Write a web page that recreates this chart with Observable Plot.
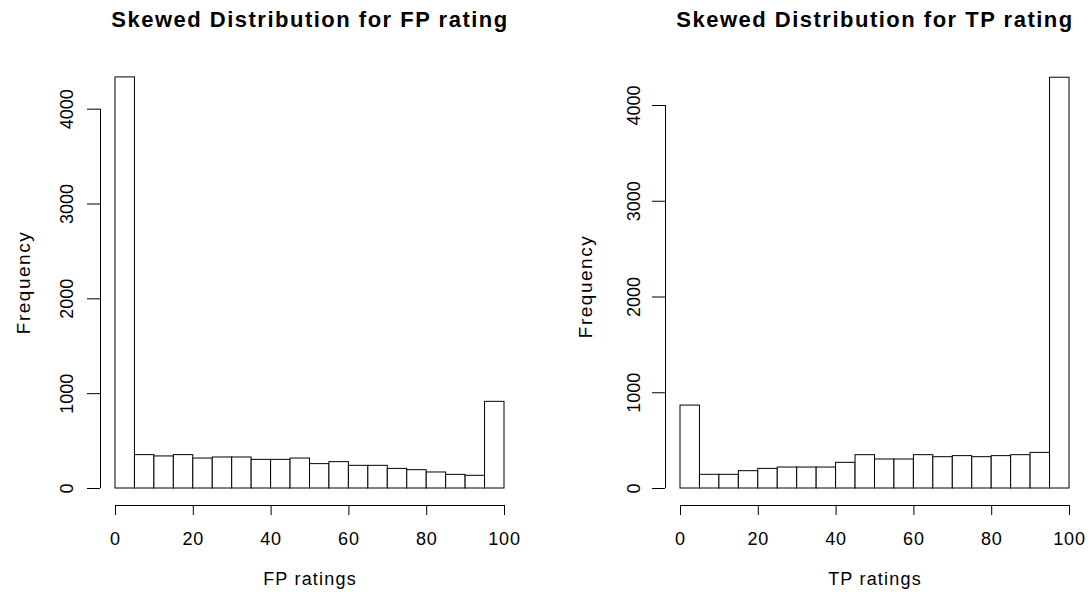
<!DOCTYPE html>
<html>
<head>
<meta charset="utf-8">
<script src="https://cdn.jsdelivr.net/npm/d3@7"></script>
<script src="https://cdn.jsdelivr.net/npm/@observablehq/plot@0.6"></script>
<style>
  html, body { margin: 0; padding: 0; background: white; }
  #wrap { display: flex; width: 1088px; height: 592px; }
  svg { overflow: visible; }
</style>
</head>
<body>
<div id="wrap"></div>
<script>
// Bin starts (bin width 5)
const binStarts = [0, 5, 10, 15, 20, 25, 30, 35, 40, 45, 50, 55, 60, 65, 70, 75, 80, 85, 90, 95];
const binWidth = 5;
// FP rating counts
const fpCounts = [4335, 352, 338, 352, 316, 327, 327, 302, 302, 316, 257, 278, 239, 239, 207, 193, 169, 144, 134, 914];
// TP rating counts
const tpCounts = [866, 143, 143, 181, 205, 219, 219, 219, 268, 348, 303, 303, 348, 327, 338, 327, 338, 348, 372, 4290];
const xTicks = [0, 20, 40, 60, 80, 100];
const yTicks = [0, 1000, 2000, 3000, 4000];
const titles = ["Skewed Distribution for FP rating", "Skewed Distribution for TP rating"];
const xLabels = ["FP ratings", "TP ratings"];
const yLabel = "Frequency";

function panel(counts, title, xLabel, o) {
  const data = binStarts.map((b, i) => ({x0: b, x1: b + binWidth, count: counts[i]}));
  const W = 544, H = 592;
  const baseY = 488;
  const yMax = 4500;
  const marginTop = baseY - yMax * o.pxPerUnit;
  const marginBottom = H - baseY;
  const frameMidY = (marginTop + baseY) / 2;
  const svg = Plot.plot({
    width: W,
    height: H,
    marginLeft: o.marginLeft,
    marginRight: o.marginRight,
    marginTop,
    marginBottom,
    style: {fontFamily: "'Liberation Sans', Arial, sans-serif", fontSize: "18px", background: "white", color: "black", overflow: "visible"},
    x: {domain: [0, 100], axis: null},
    y: {domain: [0, yMax], axis: null},
    marks: [
      Plot.rectY(data, {x1: "x0", x2: "x1", y: "count", fill: "white", stroke: "black", strokeWidth: 1}),
      // y axis line (offset left like R)
      Plot.ruleX([0], {y1: 0, y2: 4000, dx: -15, stroke: "black"}),
      // y ticks
      Plot.ruleY(yTicks, {y: d => d, x1: 0, x2: 0, insetLeft: -28, insetRight: 15, stroke: "black"}),
      // y tick labels
      Plot.text(yTicks, {x: 0, y: d => d, text: d => String(d), dx: o.yLabelDx, rotate: -90, textAnchor: "middle", lineAnchor: "middle", fontSize: 18, fill: "black"}),
      // x axis line
      Plot.ruleY([0], {x1: 0, x2: 100, dy: 17, stroke: "black"}),
      // x ticks
      Plot.ruleX(xTicks, {x: d => d, y1: 0, y2: 0, insetTop: 17, insetBottom: -27, stroke: "black"}),
      // x tick labels
      Plot.text(xTicks, {x: d => d, y: 0, text: d => String(d), dy: 51, textAnchor: "middle", lineAnchor: "middle", fontSize: 18, fill: "black"}),
      // x label
      Plot.text([xLabel], {frameAnchor: "bottom", dy: 91, lineAnchor: "middle", fontSize: 18, fill: "black"}),
      // y label
      Plot.text([yLabel], {frameAnchor: "left", dx: o.freqDx, dy: o.freqY - frameMidY, rotate: -90, textAnchor: "middle", lineAnchor: "middle", fontSize: 19, fill: "black"}),
      // title
      Plot.text([title], {frameAnchor: "top", dy: 19.5 - marginTop, lineAnchor: "middle", fontSize: 22, fontWeight: "bold", fill: "black"})
    ]
  });
  // Widen text slightly, as in the reference rendering
  const spacing = new Map([[title, "1.5px"], [xLabel, "1.2px"], [yLabel, "1.5px"]]);
  d3.select(svg).selectAll("text").each(function() {
    const t = this.textContent;
    if (spacing.has(t)) this.style.letterSpacing = spacing.get(t);
    else if (xTicks.map(String).includes(t) && !this.getAttribute("transform")?.includes("rotate")) this.style.letterSpacing = "0.8px";
  });
  return svg;
}

const wrap = document.getElementById("wrap");
wrap.appendChild(panel(fpCounts, titles[0], xLabels[0], {pxPerUnit: 0.09483, marginLeft: 115, marginRight: 40, yLabelDx: -48, freqDx: -92, freqY: 282}));
wrap.appendChild(panel(tpCounts, titles[1], xLabels[1], {pxPerUnit: 0.09575, marginLeft: 136, marginRight: 19, yLabelDx: -46, freqDx: -95, freqY: 286}));
</script>
</body>
</html>
